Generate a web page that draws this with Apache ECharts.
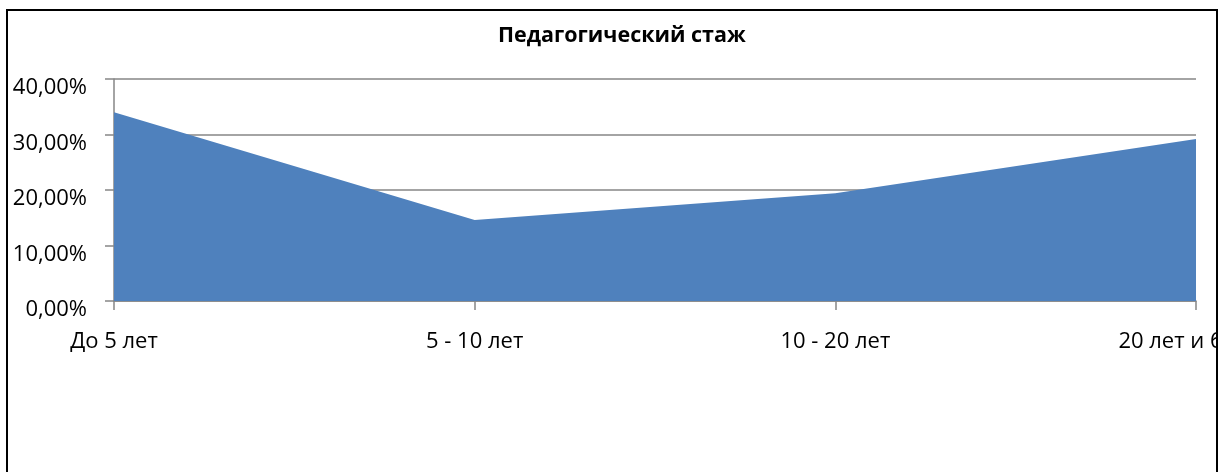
<!DOCTYPE html>
<html>
<head>
<meta charset="utf-8">
<script src="https://cdn.jsdelivr.net/npm/echarts@6/dist/echarts.min.js"></script>
<style>
    html, body { margin: 0; padding: 0; background: #fff; overflow: hidden; }
    #frame {
        position: absolute;
        left: 6px;
        top: 9px;
        width: 1208px;
        height: 480px;
        border: 2px solid #000;
        overflow: hidden;
    }
    #chart { width: 1208px; height: 480px; }
</style>
</head>
<body>
<div id="frame"><div id="chart"></div></div>
<script>
const categories = ['До 5 лет', '5 - 10 лет', '10 - 20 лет', '20 лет и более'];
const shareValues = [0.340, 0.146, 0.194, 0.292];
const yTicks = [0, 0.1, 0.2, 0.3, 0.4];

const FONT = '"Open Sans", "Liberation Sans", sans-serif';
const GRID_COLOR = '#868686';

const chart = echarts.init(document.getElementById('chart'));

const option = {
    animation: false,
    title: {
        text: 'Педагогический стаж',
        left: 485,
        top: 9,
        textStyle: { fontFamily: FONT, fontSize: 21.5, fontWeight: 'bold', color: '#000' }
    },
    grid: {
        left: 106, top: 68, width: 1082, height: 222,
        containLabel: false,
        outerBoundsMode: 'none'
    },
    xAxis: {
        type: 'category',
        data: categories,
        boundaryGap: false,
        axisLine: { lineStyle: { color: GRID_COLOR, width: 1.5 } },
        axisTick: { show: true, length: 9, lineStyle: { color: GRID_COLOR, width: 1.5 } },
        axisLabel: {
            interval: 0,
            margin: 30,
            color: '#000',
            fontFamily: FONT,
            fontSize: 22,
            hideOverlap: false,
            showMaxLabel: true,
            alignMaxLabel: 'center',
            alignMinLabel: 'center'
        },
        splitLine: { show: false }
    },
    yAxis: {
        type: 'value',
        min: yTicks[0],
        max: yTicks[yTicks.length - 1],
        interval: 0.1,
        axisLine: { show: true, lineStyle: { color: GRID_COLOR, width: 1.5 } },
        axisTick: { show: true, length: 9, lineStyle: { color: GRID_COLOR, width: 1.5 } },
        axisLabel: {
            margin: 27,
            color: '#000',
            fontFamily: FONT,
            fontSize: 22,
            verticalAlign: 'top',
            lineHeight: 18,
            formatter: v => (v * 100).toFixed(2).replace('.', ',') + '%'
        },
        splitLine: { show: true, lineStyle: { color: GRID_COLOR, width: 1.5 } }
    },
    series: [{
        type: 'line',
        data: shareValues,
        symbol: 'none',
        lineStyle: { width: 0 },
        areaStyle: { color: '#4F81BD', opacity: 1 },
        z: 3
    }]
};

chart.setOption(option);
</script>
</body>
</html>
